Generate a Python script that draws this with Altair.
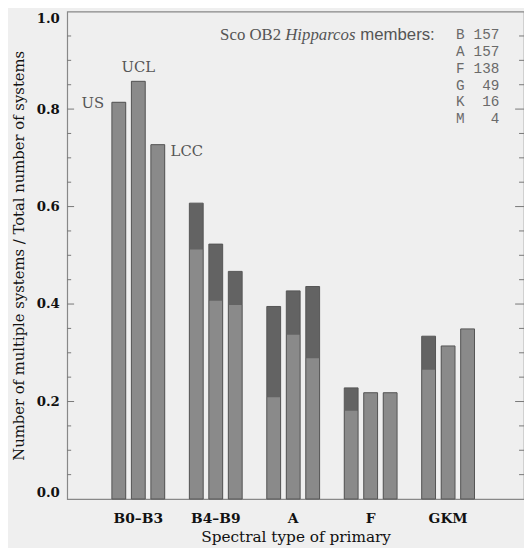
import altair as alt
import pandas as pd

# ---- data ----
groups = ["B0\u2013B3", "B4\u2013B9", "A", "F", "GKM"]
regions = ["US", "UCL", "LCC"]
# total fraction of multiple systems (top of bar)
total_us = [0.814, 0.607, 0.395, 0.228, 0.334]
total_ucl = [0.857, 0.523, 0.427, 0.218, 0.314]
total_lcc = [0.727, 0.467, 0.436, 0.218, 0.349]
# lower (lighter) part of bar
lower_us = [0.814, 0.512, 0.209, 0.181, 0.265]
lower_ucl = [0.857, 0.407, 0.337, 0.218, 0.314]
lower_lcc = [0.727, 0.398, 0.289, 0.218, 0.349]

member_types = ["B", "A", "F", "G", "K", "M"]
member_counts = [157, 157, 138, 49, 16, 4]

y_labels = [0.0, 0.2, 0.4, 0.6, 0.8, 1.0]
major_ticks = [0.2, 0.4, 0.6, 0.8]
minor_ticks = [0.05, 0.1, 0.15, 0.25, 0.3, 0.35, 0.45, 0.5, 0.55,
               0.65, 0.7, 0.75, 0.85, 0.9, 0.95]

rows = []
for reg, tot, low in [("US", total_us, lower_us), ("UCL", total_ucl, lower_ucl),
                      ("LCC", total_lcc, lower_lcc)]:
    for g, t, l in zip(groups, tot, low):
        rows.append({"group": g, "region": reg, "total": t, "lower": l})
df = pd.DataFrame(rows)

W, H = 463, 494
SERIF = "DejaVu Serif"

xscale = alt.Scale(domain=groups, paddingInner=0.245, paddingOuter=0.5715, align=0.473)
oscale = alt.Scale(domain=regions, paddingInner=0, paddingOuter=0)
yscale = alt.Scale(domain=[0, 1], nice=False)

x_enc = alt.X("group:N", scale=xscale, sort=groups,
              axis=alt.Axis(title="Spectral type of primary", labelAngle=0, ticks=False,
                            domain=False, labelPadding=13, titlePadding=4,
                            labelFont=SERIF, labelFontSize=14, labelFontWeight="bold",
                            labelColor="#111", titleFont=SERIF, titleFontSize=15.5,
                            titleFontWeight="normal", titleColor="#111"))
o_enc = alt.XOffset("region:N", scale=oscale, sort=regions)
y_axis = alt.Axis(title="Number of multiple systems / Total number of systems",
                  values=y_labels, format=".1f", ticks=False, domain=False, grid=False,
                  labelPadding=8, titlePadding=10, labelFlush=True,
                  labelFont=SERIF, labelFontSize=13.5, labelFontWeight="bold",
                  labelColor="#111", titleFont=SERIF, titleFontSize=15,
                  titleFontWeight="normal", titleColor="#111")

base = alt.Chart(df)
dark = base.mark_bar(size=14, color="#636363").encode(
    x=x_enc, xOffset=o_enc,
    y=alt.Y("total:Q", scale=yscale, axis=y_axis), y2=alt.datum(0))
light = base.mark_bar(size=14, color="#8a8a8a").encode(
    x="group:N", xOffset="region:N", y="lower:Q", y2=alt.datum(0))
outline = base.mark_bar(size=14, fillOpacity=0, stroke="#555555", strokeWidth=1).encode(
    x="group:N", xOffset="region:N", y="total:Q", y2=alt.datum(0))

# region labels on the B0-B3 group
lab = df[df["group"] == groups[0]]
txt_kw = dict(font=SERIF, fontSize=15, color="#555555", baseline="middle")
lab_us = alt.Chart(lab[lab.region == "US"]).mark_text(align="right", dx=-15, dy=1, **txt_kw).encode(
    x="group:N", xOffset="region:N", y="total:Q", text="region:N")
lab_ucl = alt.Chart(lab[lab.region == "UCL"]).mark_text(align="center", dy=-14, **txt_kw).encode(
    x="group:N", xOffset="region:N", y="total:Q", text="region:N")
lab_lcc = alt.Chart(lab[lab.region == "LCC"]).mark_text(align="left", dx=13, dy=6, **txt_kw).encode(
    x="group:N", xOffset="region:N", y="total:Q", text="region:N")

# inward ticks on both sides
tmaj = pd.DataFrame({"v": major_ticks})
tmin = pd.DataFrame({"v": minor_ticks})
tick_kw = dict(color="#777777", strokeWidth=1)
ticks = [
    alt.Chart(tmaj).mark_rule(**tick_kw).encode(y="v:Q", x=alt.value(0), x2=alt.value(7)),
    alt.Chart(tmin).mark_rule(**tick_kw).encode(y="v:Q", x=alt.value(0), x2=alt.value(4)),
    alt.Chart(tmaj).mark_rule(**tick_kw).encode(y="v:Q", x=alt.value(W - 9), x2=alt.value(W)),
    alt.Chart(tmin).mark_rule(**tick_kw).encode(y="v:Q", x=alt.value(W - 5), x2=alt.value(W)),
]

# members legend
ann = alt.Chart(pd.DataFrame({"a": [0]}))
head = [
    ann.mark_text(text="Sco OB2", font="Liberation Serif", fontSize=17, color="#555",
                  align="left", baseline="middle").encode(x=alt.value(155), y=alt.value(24)),
    ann.mark_text(text="Hipparcos", font="Liberation Serif", fontSize=17, fontStyle="italic",
                  color="#555", align="left", baseline="middle").encode(x=alt.value(221), y=alt.value(24)),
    ann.mark_text(text="members:", font="Liberation Sans", fontSize=17, color="#555",
                  align="left", baseline="middle").encode(x=alt.value(297), y=alt.value(24)),
]
mem_rows = []
for i, (t, c) in enumerate(zip(member_types, member_counts)):
    mem_rows.append(alt.Chart(pd.DataFrame({"t": [t]})).mark_text(
        font="Liberation Mono", fontSize=14.5, color="#6a6a6a", align="left", baseline="middle").encode(
        x=alt.value(394), y=alt.value(24 + 17 * i), text="t:N"))
    mem_rows.append(alt.Chart(pd.DataFrame({"c": [c]})).mark_text(
        font="Liberation Mono", fontSize=14.5, color="#6a6a6a", align="right", baseline="middle").encode(
        x=alt.value(438), y=alt.value(24 + 17 * i), text="c:Q"))

chart = alt.layer(dark, light, outline, lab_us, lab_ucl, lab_lcc, *ticks, *head, *mem_rows).properties(
    width=W, height=H,
    autosize=alt.AutoSizeParams(type="none"),
    padding={"left": 60, "top": 0, "right": 0, "bottom": 46},
    background="#efefef",
).configure_view(stroke="#888888", strokeWidth=1.2)

chart.save("out.html", embed_options={"renderer": "svg", "actions": False})
